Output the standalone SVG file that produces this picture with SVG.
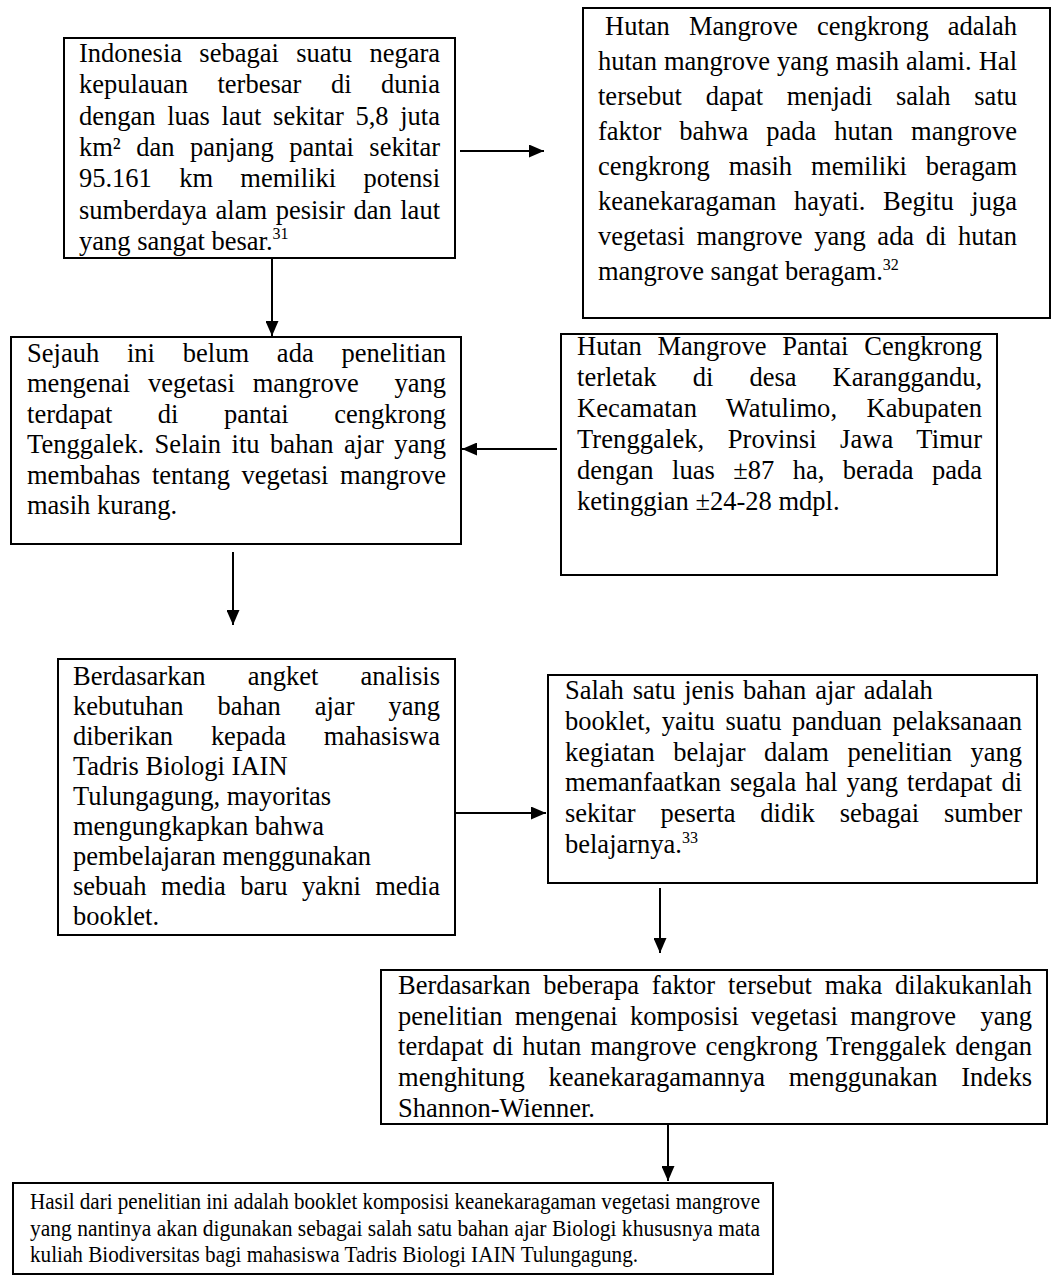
<svg xmlns="http://www.w3.org/2000/svg" width="1052" height="1286" viewBox="0 0 1052 1286">
<defs>
<marker id="ah" markerUnits="userSpaceOnUse" markerWidth="15" markerHeight="13" refX="15" refY="6.5" orient="auto"><path d="M0,0 L15,6.5 L0,13 z" fill="#000"/></marker>
<style>
.box{fill:#fff;stroke:#000;stroke-width:2}
.t{font-family:"Liberation Serif","Times New Roman",serif;font-size:26.5px;fill:#000}
.t8{font-family:"Liberation Serif","Times New Roman",serif;font-size:24px;fill:#000}
.sup{font-size:16px}
.c{stroke:#000;stroke-width:2;fill:none;marker-end:url(#ah)}
</style>
</defs>
<rect width="1052" height="1286" fill="#fff"/>
<g id="connectors">
<line class="c" x1="460" y1="151" x2="544" y2="151"/>
<line class="c" x1="272" y1="258" x2="272" y2="336"/>
<line class="c" x1="557" y1="449" x2="462" y2="449"/>
<line class="c" x1="233" y1="552" x2="233" y2="625"/>
<line class="c" x1="448" y1="813" x2="546" y2="813"/>
<line class="c" x1="660" y1="888" x2="660" y2="953"/>
<line class="c" x1="668" y1="1125" x2="668" y2="1181"/>
</g>
<g id="n1">
<rect class="box" x="64" y="38" width="391" height="220"/>
<text class="t" x="79" y="62" word-spacing="10.68" textLength="361" lengthAdjust="spacing">Indonesia sebagai suatu negara</text>
<text class="t" x="79" y="93" word-spacing="22.95" textLength="361" lengthAdjust="spacing">kepulauan terbesar di dunia</text>
<text class="t" x="79" y="125" word-spacing="5.07" textLength="361" lengthAdjust="spacing">dengan luas laut sekitar 5,8 juta</text>
<text class="t" x="79" y="156" word-spacing="8.78" textLength="361" lengthAdjust="spacing">km² dan panjang pantai sekitar</text>
<text class="t" x="79" y="187" word-spacing="20.7" textLength="361" lengthAdjust="spacing">95.161 km memiliki potensi</text>
<text class="t" x="79" y="219" word-spacing="1.93" textLength="361" lengthAdjust="spacing">sumberdaya alam pesisir dan laut</text>
<text class="t" x="79" y="250">yang sangat besar.<tspan class="sup" dy="-11">31</tspan></text>
</g>
<g id="n2">
<rect class="box" x="583" y="8" width="467" height="310"/>
<text class="t" x="605" y="35" word-spacing="12.47" textLength="412" lengthAdjust="spacing">Hutan Mangrove cengkrong adalah</text>
<text class="t" x="598" y="70" word-spacing="0.48" textLength="419" lengthAdjust="spacing">hutan mangrove yang masih alami. Hal</text>
<text class="t" x="598" y="105" word-spacing="17.17" textLength="419" lengthAdjust="spacing">tersebut dapat menjadi salah satu</text>
<text class="t" x="598" y="140" word-spacing="11.3" textLength="419" lengthAdjust="spacing">faktor bahwa pada hutan mangrove</text>
<text class="t" x="598" y="175" word-spacing="12.34" textLength="419" lengthAdjust="spacing">cengkrong masih memiliki beragam</text>
<text class="t" x="598" y="210" word-spacing="10.87" textLength="419" lengthAdjust="spacing">keanekaragaman hayati. Begitu juga</text>
<text class="t" x="598" y="245" word-spacing="5.05" textLength="419" lengthAdjust="spacing">vegetasi mangrove yang ada di hutan</text>
<text class="t" x="598" y="280">mangrove sangat beragam.<tspan class="sup" dy="-10">32</tspan></text>
</g>
<g id="n3">
<rect class="box" x="11" y="337" width="450" height="207"/>
<text class="t" x="27" y="362" word-spacing="21.2" textLength="419" lengthAdjust="spacing">Sejauh ini belum ada penelitian</text>
<text class="t" x="27" y="392" xml:space="preserve" word-spacing="11.3" textLength="419" lengthAdjust="spacing">mengenai vegetasi mangrove  yang</text>
<text class="t" x="27" y="423" word-spacing="38.8" textLength="419" lengthAdjust="spacing">terdapat di pantai cengkrong</text>
<text class="t" x="27" y="453" word-spacing="3.73" textLength="419" lengthAdjust="spacing">Tenggalek. Selain itu bahan ajar yang</text>
<text class="t" x="27" y="484" word-spacing="4.98" textLength="419" lengthAdjust="spacing">membahas tentang vegetasi mangrove</text>
<text class="t" x="27" y="514">masih kurang.</text>
</g>
<g id="n4">
<rect class="box" x="561" y="334" width="436" height="241"/>
<text class="t" x="577" y="355" word-spacing="9.14" textLength="405" lengthAdjust="spacing">Hutan Mangrove Pantai Cengkrong</text>
<text class="t" x="577" y="386" word-spacing="29.5" textLength="405" lengthAdjust="spacing">terletak di desa Karanggandu,</text>
<text class="t" x="577" y="417" word-spacing="22.6" textLength="405" lengthAdjust="spacing">Kecamatan Watulimo, Kabupaten</text>
<text class="t" x="577" y="448" word-spacing="16.7" textLength="405" lengthAdjust="spacing">Trenggalek, Provinsi Jawa Timur</text>
<text class="t" x="577" y="479" word-spacing="11.8" textLength="405" lengthAdjust="spacing">dengan luas ±87 ha, berada pada</text>
<text class="t" x="577" y="510">ketinggian ±24-28 mdpl.</text>
</g>
<g id="n5">
<rect class="box" x="58" y="659" width="397" height="276"/>
<text class="t" x="73" y="685" word-spacing="35.6" textLength="367" lengthAdjust="spacing">Berdasarkan angket analisis</text>
<text class="t" x="73" y="715" word-spacing="27.4" textLength="367" lengthAdjust="spacing">kebutuhan bahan ajar yang</text>
<text class="t" x="73" y="745" word-spacing="31.2" textLength="367" lengthAdjust="spacing">diberikan kepada mahasiswa</text>
<text class="t" x="73" y="775">Tadris Biologi IAIN</text>
<text class="t" x="73" y="805">Tulungagung, mayoritas</text>
<text class="t" x="73" y="835">mengungkapkan bahwa</text>
<text class="t" x="73" y="865">pembelajaran menggunakan</text>
<text class="t" x="73" y="895" word-spacing="7.85" textLength="367" lengthAdjust="spacing">sebuah media baru yakni media</text>
<text class="t" x="73" y="925">booklet.</text>
</g>
<g id="n6">
<rect class="box" x="548" y="675" width="489" height="208"/>
<text class="t" x="565" y="699" word-spacing="2.2">Salah satu jenis bahan ajar adalah</text>
<text class="t" x="565" y="730" word-spacing="4.03" textLength="457" lengthAdjust="spacing">booklet, yaitu suatu panduan pelaksanaan</text>
<text class="t" x="565" y="761" word-spacing="11.95" textLength="457" lengthAdjust="spacing">kegiatan belajar dalam penelitian yang</text>
<text class="t" x="565" y="791" word-spacing="2.36" textLength="457" lengthAdjust="spacing">memanfaatkan segala hal yang terdapat di</text>
<text class="t" x="565" y="822" word-spacing="18.2" textLength="457" lengthAdjust="spacing">sekitar peserta didik sebagai sumber</text>
<text class="t" x="565" y="853">belajarnya.<tspan class="sup" dy="-10">33</tspan></text>
</g>
<g id="n7">
<rect class="box" x="381" y="970" width="666" height="154"/>
<text class="t" x="398" y="994" word-spacing="6.26" textLength="634" lengthAdjust="spacing">Berdasarkan beberapa faktor tersebut maka dilakukanlah</text>
<text class="t" x="398" y="1025" xml:space="preserve" word-spacing="5.57" textLength="634" lengthAdjust="spacing">penelitian mengenai komposisi vegetasi mangrove  yang</text>
<text class="t" x="398" y="1055" word-spacing="2.39" textLength="634" lengthAdjust="spacing">terdapat di hutan mangrove cengkrong Trenggalek dengan</text>
<text class="t" x="398" y="1086" word-spacing="17" textLength="634" lengthAdjust="spacing">menghitung keanekaragamannya menggunakan Indeks</text>
<text class="t" x="398" y="1117">Shannon-Wienner.</text>
</g>
<g id="n8">
<rect class="box" x="13" y="1183" width="760" height="91"/>
<text class="t8" x="30" y="1209" textLength="730" lengthAdjust="spacingAndGlyphs">Hasil dari penelitian ini adalah booklet komposisi keanekaragaman vegetasi mangrove</text>
<text class="t8" x="30" y="1236" textLength="730" lengthAdjust="spacingAndGlyphs">yang nantinya akan digunakan sebagai salah satu bahan ajar Biologi khususnya mata</text>
<text class="t8" x="30" y="1262" textLength="608" lengthAdjust="spacingAndGlyphs">kuliah Biodiversitas bagi mahasiswa Tadris Biologi IAIN Tulungagung.</text>
</g>
</svg>
